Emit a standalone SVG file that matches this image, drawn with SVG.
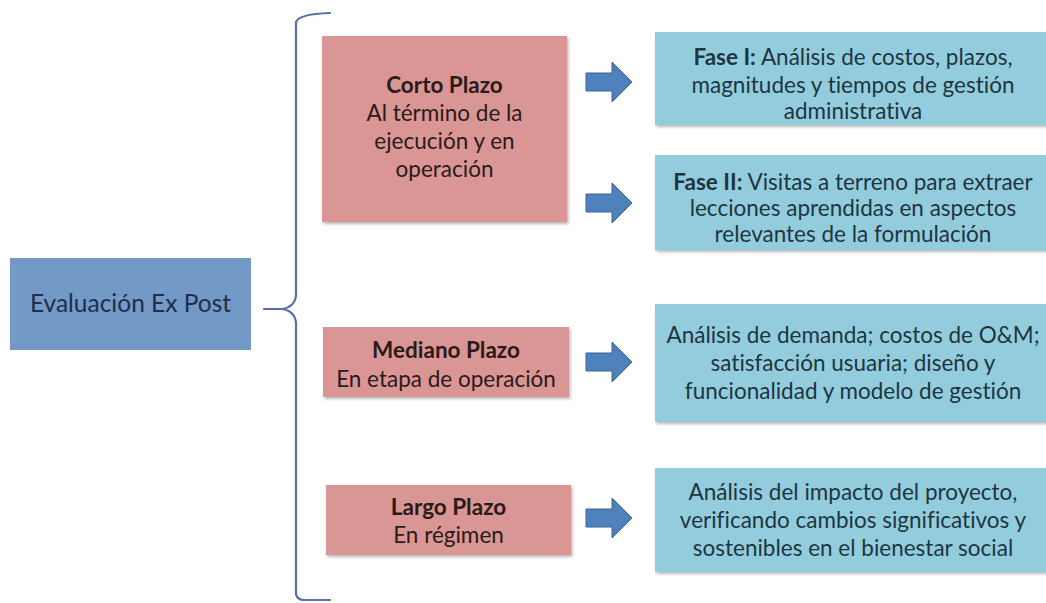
<svg xmlns="http://www.w3.org/2000/svg" width="1046" height="603" viewBox="0 0 1046 603">
<defs>
<filter id="sh" x="-5%" y="-10%" width="115%" height="130%">
<feDropShadow dx="1.5" dy="2" stdDeviation="1.8" flood-color="#000" flood-opacity="0.28"/>
</filter>
</defs>
<style>
text{font-family:Lato,"Open Sans","Liberation Sans",sans-serif;text-anchor:middle;font-variant-ligatures:none;font-feature-settings:"liga" 0,"clig" 0}
.pink{fill:#d99694;filter:url(#sh)}
.aqua{fill:#93cddd;filter:url(#sh)}
.pt{font-size:22.5px;fill:#2b1a1a}
.bt{font-size:22.5px;fill:#1e3540}
.b{font-weight:bold}
.arrow{fill:#4f81bd;stroke:#3a6398;stroke-width:1}
.brace{fill:none;stroke:#5a6ea8;stroke-width:2.2;stroke-linecap:round;stroke-linejoin:round}
</style>
<rect width="1046" height="603" fill="#ffffff"/>

<g id="root">
<rect x="10" y="258" width="241" height="92" fill="#7399c6"/>
<text x="130.5" y="312" style="font-size:24.5px;fill:#1f2e4d">Evaluación Ex Post</text>
</g>

<g id="corto">
<rect class="pink" x="322" y="36" width="245" height="186"/>
<text class="pt" x="444.5" y="93"><tspan class="b">Corto Plazo</tspan></text>
<text class="pt" x="444.5" y="121">Al término de la</text>
<text class="pt" x="444.5" y="149">ejecución y en</text>
<text class="pt" x="444.5" y="177">operación</text>
</g>

<g id="mediano">
<rect class="pink" x="323" y="327" width="246" height="70"/>
<text class="pt b" x="446" y="358">Mediano Plazo</text>
<text class="pt" x="446" y="387">En etapa de operación</text>
</g>

<g id="largo">
<rect class="pink" x="326" y="485" width="245" height="70"/>
<text class="pt b" x="448.5" y="515">Largo Plazo</text>
<text class="pt" x="448.5" y="543">En régimen</text>
</g>

<g id="fase1">
<rect class="aqua" x="655" y="32" width="395" height="93"/>
<text class="bt" x="853" y="65"><tspan class="b">Fase I:</tspan> Análisis de costos, plazos,</text>
<text class="bt" x="853" y="93">magnitudes y tiempos de gestión</text>
<text class="bt" x="853" y="119">administrativa</text>
</g>

<g id="fase2">
<rect class="aqua" x="655" y="155" width="395" height="95"/>
<text class="bt" x="853" y="190"><tspan class="b">Fase II:</tspan>  Visitas a terreno para extraer</text>
<text class="bt" x="853" y="216">lecciones aprendidas en aspectos</text>
<text class="bt" x="853" y="242">relevantes de la formulación</text>
</g>

<g id="mediano-desc">
<rect class="aqua" x="655" y="304" width="395" height="118"/>
<text class="bt" x="853" y="343">Análisis de demanda; costos de O&amp;M;</text>
<text class="bt" x="853" y="371">satisfacción usuaria; diseño y</text>
<text class="bt" x="853" y="399">funcionalidad y modelo de gestión</text>
</g>

<g id="largo-desc">
<rect class="aqua" x="655" y="468" width="395" height="104"/>
<text class="bt" x="853" y="500">Análisis del impacto del proyecto,</text>
<text class="bt" x="853" y="528">verificando cambios significativos y</text>
<text class="bt" x="853" y="556">sostenibles en el bienestar social</text>
</g>

<g id="connectors">
<path class="brace" d="M330,13 Q299,14 296,22 L296,295 Q295,307 282,309 L264,309 M282,309 Q295,311 296,323 L296,594 Q297,600 304,600 L330,600"/>
<path class="arrow" d="M586,73 L612,73 L612,62 L632,82 L612,102 L612,91 L586,91 Z"/>
<path class="arrow" d="M586,194 L612,194 L612,183 L632,203 L612,223 L612,212 L586,212 Z"/>
<path class="arrow" d="M586,353 L612,353 L612,342 L632,362 L612,382 L612,371 L586,371 Z"/>
<path class="arrow" d="M586,509 L612,509 L612,498 L632,518 L612,538 L612,527 L586,527 Z"/>
</g>
</svg>
